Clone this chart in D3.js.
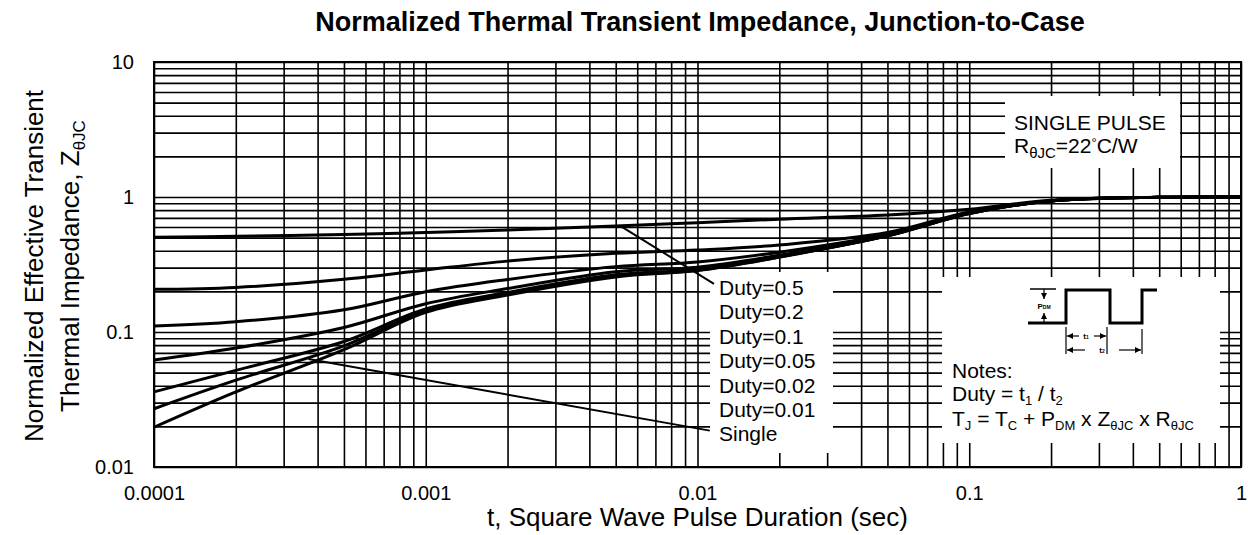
<!DOCTYPE html>
<html>
<head>
<meta charset="utf-8">
<script src="https://cdn.jsdelivr.net/npm/d3@7"></script>
<style>
  body { margin: 0; background: #fff; }
  svg text { font-family: 'Liberation Sans', Arial, sans-serif; fill: #000; }
  .grid line { stroke: #000; stroke-width: 1.6px; }
  .grid path { display: none; }
  .axis path, .axis line { display: none; }
  .curve { fill: none; stroke: #000; stroke-width: 3px; stroke-linejoin: round; }
  .leader { stroke: #000; stroke-width: 2px; }
</style>
</head>
<body>
<svg id="chart" width="1248" height="535"></svg>
<script>
// pulse durations (sec) and normalized Z
const pulseTimes = [0.0001, 0.0002, 0.0005, 0.001, 0.002, 0.005, 0.01, 0.02, 0.05, 0.1, 0.2, 0.5, 1];
const duty50 = [0.503, 0.512, 0.528, 0.545, 0.57, 0.61, 0.645, 0.685, 0.735, 0.81, 0.945, 0.995, 1.0];
const duty20 = [0.207, 0.214, 0.246, 0.288, 0.335, 0.383, 0.405, 0.441, 0.545, 0.775, 0.935, 0.995, 1.0];
const duty10 = [0.111, 0.119, 0.146, 0.199, 0.245, 0.305, 0.33, 0.39, 0.53, 0.765, 0.935, 0.995, 1.0];
const duty05 = [0.062, 0.076, 0.108, 0.162, 0.21, 0.28, 0.302, 0.37, 0.52, 0.76, 0.935, 0.995, 1.0];
const duty02 = [0.036, 0.052, 0.085, 0.148, 0.196, 0.265, 0.29, 0.362, 0.515, 0.755, 0.935, 0.995, 1.0];
const duty01 = [0.027, 0.044, 0.079, 0.143, 0.192, 0.26, 0.287, 0.36, 0.515, 0.755, 0.935, 0.995, 1.0];
const singlePulse = [0.0197, 0.036, 0.074, 0.14, 0.188, 0.256, 0.285, 0.358, 0.515, 0.755, 0.935, 0.995, 1.0];

const curveLabels = ['Duty=0.5', 'Duty=0.2', 'Duty=0.1', 'Duty=0.05', 'Duty=0.02', 'Duty=0.01', 'Single'];
const timeTicks = [0.0001, 0.001, 0.01, 0.1, 1];
const zTicks = [0.01, 0.1, 1, 10];

// leader lines, [t, Z] at each end
const leaderDuty50 = [[0.00527, 0.60], [0.0115, 0.227]];
const leaderSingle = [[0.00037, 0.063], [0.0111, 0.0186]];

const margin = { top: 62, right: 7, bottom: 68, left: 154 };
const width = 1248 - margin.left - margin.right;
const height = 535 - margin.top - margin.bottom;

const svg = d3.select('#chart');
const plot = svg
  .append('g')
    .attr('transform', 'translate(' + margin.left + ',' + margin.top + ')');

const x = d3.scaleLog()
    .domain([0.0001, 1])
    .range([0, width]);

const y = d3.scaleLog()
    .domain([0.01, 10])
    .range([height, 0]);

// log grid
plot.append('g')
    .attr('class', 'grid')
    .attr('transform', 'translate(0,' + height + ')')
    .call(d3.axisBottom(x)
      .tickValues(x.ticks())
      .tickFormat('')
      .tickSize(-height));

plot.append('g')
    .attr('class', 'grid')
    .call(d3.axisLeft(y)
      .tickValues(y.ticks())
      .tickFormat('')
      .tickSize(-width));

plot.append('rect')
    .attr('width', width)
    .attr('height', height)
    .attr('fill', 'none')
    .attr('stroke', '#000')
    .attr('stroke-width', 2);

// white boxes behind the annotations
const labelBox = { x: 556, y: 210, w: 123, h: 181 };
const notesBox = { x: 788, y: 215, w: 278, h: 166 };
const pulseBox = { x: 851, y: 34, w: 175, h: 72 };

[labelBox, notesBox, pulseBox].forEach(function(b) {
  plot.append('rect')
      .attr('x', b.x)
      .attr('y', b.y)
      .attr('width', b.w)
      .attr('height', b.h)
      .attr('fill', '#fff');
});

// curves
const series = [duty50, duty20, duty10, duty05, duty02, duty01, singlePulse];

const line = d3.line()
    .x((d) => x(d[0]))
    .y((d) => y(d[1]))
    .curve(d3.curveCatmullRom.alpha(0.5));

plot.append('g')
  .selectAll('path')
  .data(series)
  .enter().append('path')
    .attr('class', 'curve')
    .attr('d', (vals) => line(pulseTimes.map((t, i) => [t, vals[i]])));

[leaderDuty50, leaderSingle].forEach(function(l) {
  plot.append('line')
      .attr('class', 'leader')
      .attr('x1', x(l[0][0]))
      .attr('y1', y(l[0][1]))
      .attr('x2', x(l[1][0]))
      .attr('y2', y(l[1][1]));
});

plot.append('g')
  .selectAll('text')
  .data(curveLabels)
  .enter().append('text')
    .attr('x', labelBox.x + 9)
    .attr('y', (d, i) => labelBox.y + 23 + i * 24.4)
    .attr('font-size', 21)
    .text((d) => d);

// axes labels
const fmt = (d) => String(d);

plot.append('g')
    .attr('class', 'axis')
    .attr('transform', 'translate(0,' + height + ')')
    .call(d3.axisBottom(x)
      .tickValues(timeTicks)
      .tickFormat(fmt)
      .tickSize(0)
      .tickPadding(19))
  .selectAll('text')
    .attr('font-size', 20);

plot.append('g')
    .attr('class', 'axis')
    .call(d3.axisLeft(y)
      .tickValues(zTicks)
      .tickFormat(fmt)
      .tickSize(0)
      .tickPadding(20))
  .selectAll('text')
    .attr('font-size', 20);

svg.append('text')
    .attr('x', 700)
    .attr('y', 31)
    .attr('text-anchor', 'middle')
    .attr('font-size', 27)
    .attr('font-weight', 'bold')
    .text('Normalized Thermal Transient Impedance, Junction-to-Case');

svg.append('text')
    .attr('x', margin.left + width / 2)
    .attr('y', 526)
    .attr('text-anchor', 'middle')
    .attr('font-size', 26)
    .text('t, Square Wave Pulse Duration (sec)');

svg.append('text')
    .attr('transform', 'translate(43,266) rotate(-90)')
    .attr('text-anchor', 'middle')
    .attr('font-size', 26)
    .text('Normalized Effective Transient');

const yTitle2 = svg.append('text')
    .attr('transform', 'translate(79,266) rotate(-90)')
    .attr('text-anchor', 'middle')
    .attr('font-size', 26);
yTitle2.append('tspan').text('Thermal Impedance, Z');
yTitle2.append('tspan').attr('font-size', 17).attr('dy', 6).text('θJC');

// single pulse note
plot.append('text')
    .attr('x', pulseBox.x + 9)
    .attr('y', pulseBox.y + 34)
    .attr('font-size', 21)
    .text('SINGLE PULSE');

const rNote = plot.append('text')
    .attr('x', pulseBox.x + 9)
    .attr('y', pulseBox.y + 57)
    .attr('font-size', 21);
rNote.append('tspan').text('R');
rNote.append('tspan').attr('font-size', 15).attr('dy', 5).text('θJC');
rNote.append('tspan').attr('dy', -5).text('=22');
rNote.append('tspan').attr('font-size', 13).attr('dy', -6).text('°');
rNote.append('tspan').attr('dy', 6).text('C/W');

// notes with subscripts
function addRich(g, px, py, parts) {
  const t = g.append('text')
      .attr('x', px)
      .attr('y', py)
      .attr('font-size', 21);
  let shifted = false;
  parts.forEach(function(p) {
    const sub = p[1] === 'sub';
    const span = t.append('tspan').text(p[0]);
    if (sub) span.attr('font-size', 13);
    if (sub && !shifted) { span.attr('dy', 4); shifted = true; }
    if (!sub && shifted) { span.attr('dy', -4); shifted = false; }
  });
}

addRich(plot, notesBox.x + 10, notesBox.y + 101, [['Notes:']]);
addRich(plot, notesBox.x + 10, notesBox.y + 124, [['Duty = t'], ['1', 'sub'], [' / t'], ['2', 'sub']]);
addRich(plot, notesBox.x + 10, notesBox.y + 149, [
  ['T'], ['J', 'sub'], [' = T'], ['C', 'sub'], [' + P'], ['DM', 'sub'],
  [' x Z'], ['θJC', 'sub'], [' x R'], ['θJC', 'sub']
]);

// pulse train sketch
const defs = svg.append('defs');
defs.append('marker')
    .attr('id', 'arrow')
    .attr('viewBox', '0 0 10 10')
    .attr('refX', 10)
    .attr('refY', 5)
    .attr('markerWidth', 5)
    .attr('markerHeight', 5)
    .attr('orient', 'auto')
  .append('path')
    .attr('d', 'M0,0L10,5L0,10Z')
    .attr('fill', '#000');

const sk = plot.append('g')
    .attr('transform', 'translate(' + notesBox.x + ',' + notesBox.y + ')');

sk.append('path')
    .attr('d', 'M86,46H124V13H168V46H200V13H215')
    .attr('fill', 'none')
    .attr('stroke', '#000')
    .attr('stroke-width', 3);

sk.append('line').attr('x1', 88).attr('y1', 12).attr('x2', 114).attr('y2', 12)
    .attr('stroke', '#000').attr('stroke-width', 1.5);

[[102, 12, 102, 22], [102, 45, 102, 36]].forEach(function(a) {
  sk.append('line')
      .attr('x1', a[0]).attr('y1', a[1]).attr('x2', a[2]).attr('y2', a[3])
      .attr('stroke', '#000').attr('stroke-width', 1.2)
      .attr('marker-end', 'url(#arrow)');
});

const pdm = sk.append('text')
    .attr('x', 102)
    .attr('y', 32)
    .attr('text-anchor', 'middle')
    .attr('font-size', 8)
    .attr('font-weight', 'bold');
pdm.append('tspan').text('P');
pdm.append('tspan').attr('font-size', 5).text('DM');

[[124, 50], [165, 50], [200, 52]].forEach(function(v) {
  sk.append('line')
      .attr('x1', v[0]).attr('y1', v[1]).attr('x2', v[0]).attr('y2', 77)
      .attr('stroke', '#000').attr('stroke-width', 1.2);
});

[[137, 59, 125, 59], [152, 59, 164, 59], [143, 73, 125, 73], [177, 73, 199, 73]].forEach(function(a) {
  sk.append('line')
      .attr('x1', a[0]).attr('y1', a[1]).attr('x2', a[2]).attr('y2', a[3])
      .attr('stroke', '#000').attr('stroke-width', 1.2)
      .attr('marker-end', 'url(#arrow)');
});

[['t', '1', 144, 62], ['t', '2', 160, 76]].forEach(function(s) {
  const t = sk.append('text')
      .attr('x', s[2])
      .attr('y', s[3])
      .attr('text-anchor', 'middle')
      .attr('font-size', 8)
      .attr('font-weight', 'bold');
  t.append('tspan').text(s[0]);
  t.append('tspan').attr('font-size', 5).text(s[1]);
});
</script>
</body>
</html>
